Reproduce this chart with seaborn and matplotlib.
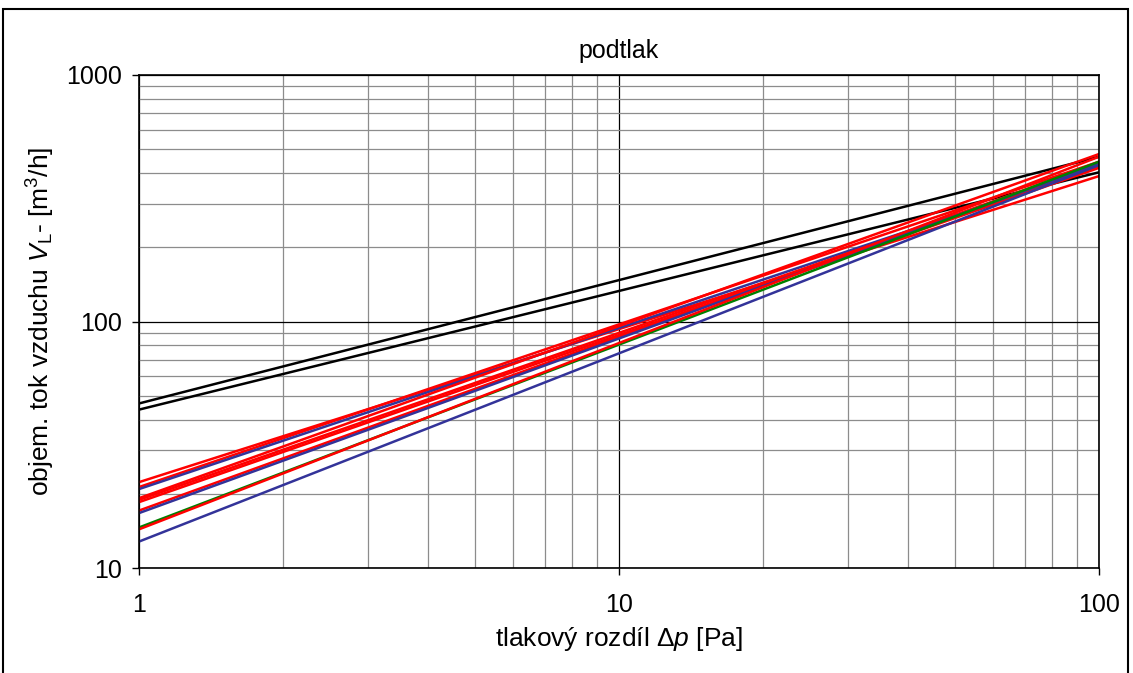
import matplotlib
matplotlib.use("Agg")
import matplotlib.pyplot as plt
from matplotlib.patches import Rectangle
from matplotlib.ticker import LogLocator, FixedLocator, NullFormatter, FixedFormatter
import seaborn as sns
import pandas as pd

# ---- data (values at dp = 1 Pa and dp = 100 Pa; power-law lines) ----
dp_points = [1, 100]
series_names = ["black1", "black2", "red_a", "red_b", "blue_a", "red_c", "red_d",
                "red_e", "red_f", "blue_b", "green", "red_g", "blue_c"]
flow_at_1 = [46.5, 43.9, 22.3, 21.3, 20.9, 19.2, 18.9, 18.5, 17.1, 16.7, 14.6, 14.35, 12.8]
flow_at_100 = [466, 403, 389, 445, 424, 478, 428, 420, 440, 436, 445, 466, 431]
series_colors = ["#000000", "#000000", "#FF0000", "#FF0000", "#333399", "#FF0000", "#FF0000",
                 "#FF0000", "#FF0000", "#333399", "#008000", "#FF0000", "#333399"]
x_ticks = [1, 10, 100]
x_tick_labels = ["1", "10", "100"]
y_ticks = [10, 100, 1000]
y_tick_labels = ["10", "100", "1000"]
title_text = "podtlak"
x_label = "tlakový rozdíl Δ$\\it{p}$ [Pa]"
y_label = "objem. tok vzduchu $\\it{V}_{\\rm{L}}$- [m$^{3}$/h]"

rows = []
for name, a, b in zip(series_names, flow_at_1, flow_at_100):
    rows.append({"dp": dp_points[0], "V": a, "series": name})
    rows.append({"dp": dp_points[1], "V": b, "series": name})
df = pd.DataFrame(rows)
palette = dict(zip(series_names, series_colors))

sns.set_style("white")
plt.rcParams["font.family"] = ["Liberation Sans", "DejaVu Sans"]
plt.rcParams["mathtext.fontset"] = "custom"
plt.rcParams["mathtext.rm"] = "Liberation Sans"
plt.rcParams["mathtext.it"] = "Liberation Sans:italic"
plt.rcParams["mathtext.bf"] = "Liberation Sans:bold"
plt.rcParams["text.color"] = "black"
plt.rcParams["axes.labelcolor"] = "black"
plt.rcParams["xtick.color"] = "black"
plt.rcParams["ytick.color"] = "black"

fig = plt.figure(figsize=(11.33, 6.73), dpi=100)
ax = fig.add_axes([139 / 1133, 1 - 568 / 673, (1099 - 139) / 1133, (568 - 75) / 673])

sns.lineplot(data=df, x="dp", y="V", hue="series", palette=palette,
             hue_order=series_names, estimator=None, sort=True,
             legend=False, linewidth=1.8, ax=ax)

ax.set_xscale("log")
ax.set_yscale("log")
ax.set_xlim(1, 100)
ax.set_ylim(10, 1000)

ax.xaxis.set_major_locator(FixedLocator(x_ticks))
ax.xaxis.set_major_formatter(FixedFormatter(x_tick_labels))
ax.yaxis.set_major_locator(FixedLocator(y_ticks))
ax.yaxis.set_major_formatter(FixedFormatter(y_tick_labels))
ax.xaxis.set_minor_locator(LogLocator(base=10, subs=range(2, 10)))
ax.yaxis.set_minor_locator(LogLocator(base=10, subs=range(2, 10)))
ax.xaxis.set_minor_formatter(NullFormatter())
ax.yaxis.set_minor_formatter(NullFormatter())

ax.grid(which="minor", color="#8c8c8c", linewidth=0.9)
ax.grid(which="major", color="#000000", linewidth=0.9)
ax.set_axisbelow(True)

ax.tick_params(which="major", direction="out", length=5, width=1, color="black",
               labelcolor="black", labelsize=18, pad=7, bottom=True, left=True)
ax.tick_params(axis="x", which="major", pad=13)
ax.tick_params(which="minor", length=0)

for s in ax.spines.values():
    s.set_color("black")
    s.set_linewidth(1.2)

ax.set_xlabel(x_label, fontsize=19, labelpad=6, color="black")
ax.set_ylabel(y_label, fontsize=19, labelpad=7, color="black")
ax.set_title(title_text, fontsize=18, pad=12, color="black")

fig.patches.append(Rectangle((3 / 1133, -0.05), (1128 - 3) / 1133, 1.05 - 9 / 673,
                             transform=fig.transFigure, fill=False,
                             edgecolor="black", linewidth=1.5))

fig.savefig("out.png", dpi=100)
